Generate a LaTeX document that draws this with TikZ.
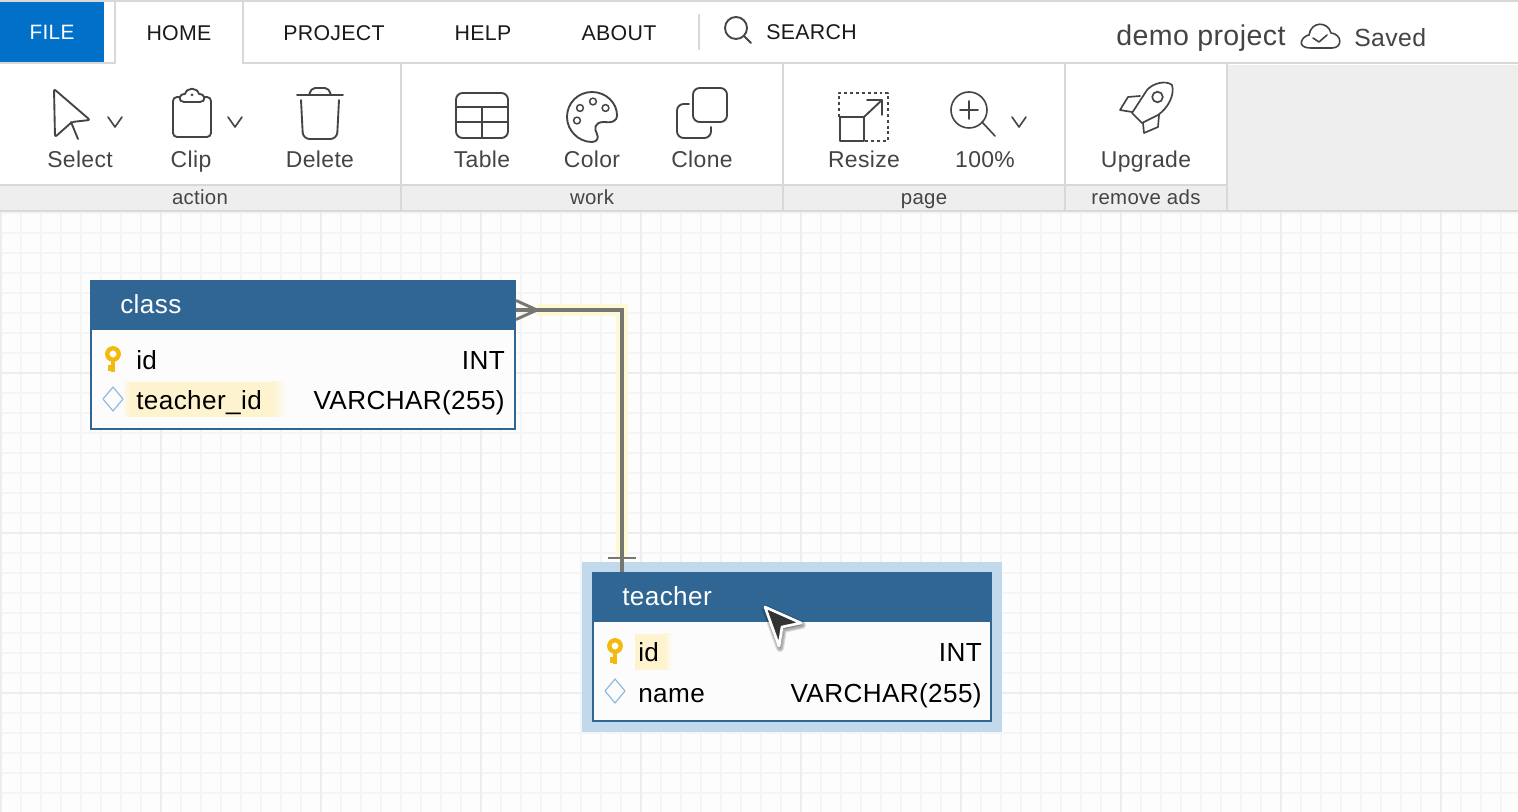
\documentclass[tikz,border=0pt]{standalone}
\usepackage{fontspec}
\setmainfont[LetterSpace=1.5]{Liberation Sans}
\usetikzlibrary{calc,shadows,shapes.geometric}
\definecolor{linegray}{HTML}{D8D8D8}
\definecolor{panelgray}{HTML}{EEEEEE}
\definecolor{tablehead}{HTML}{2F6694}
\definecolor{halo}{HTML}{C2D9EB}
\definecolor{glow}{HTML}{FDF3CF}
\definecolor{connglow}{HTML}{FDF8D6}
\definecolor{conn}{HTML}{777772}
\definecolor{keygold}{HTML}{F2B90F}
\definecolor{fkblue}{HTML}{8FB8E0}
\definecolor{icon}{HTML}{444444}
\definecolor{menutext}{HTML}{1A1A1A}
\definecolor{canvas}{HTML}{FDFDFD}
\definecolor{gridminor}{HTML}{F5F5F5}
\definecolor{gridmajor}{HTML}{EDEDED}
\definecolor{rowbg}{HTML}{FCFCFC}
\tikzset{
  x=0.75pt,y=-0.75pt,
  menulabel/.style={anchor=base,inner sep=0pt,text=menutext,font=\fontsize{16pt}{20pt}\selectfont},
  toollabel/.style={anchor=base,inner sep=0pt,text=icon,font=\fontsize{17.2pt}{20pt}\selectfont},
  seclabel/.style={anchor=base,inner sep=0pt,text=icon,font=\fontsize{15.3pt}{17pt}\selectfont},
  iconline/.style={draw=icon,line width=1.4pt,line join=round,line cap=round},
  sepline/.style={draw=linegray,line width=1.5pt},
  tbltext/.style={inner sep=0pt,text=black,font=\fontsize{19.6pt}{23pt}\selectfont},
  tblhead/.style={inner sep=0pt,text=white,font=\fontsize{19.6pt}{23pt}\selectfont,anchor=base west},
  headbox/.style={rectangle,fill=tablehead,inner sep=0pt,outer sep=0pt,anchor=north west},
  bodybox/.style={rectangle,draw=tablehead,fill=rowbg,line width=1.5pt,inner sep=0pt,outer sep=0pt,anchor=north west},
  keyicon/.pic={
    \draw[keygold,line width=3.3pt] (0,0) circle (5.7);
    \fill[keygold] (-2.2,6) rectangle (2.2,18);
    \fill[keygold] (-5.5,11) rectangle (-2,17);
  },
  fkicon/.pic={
    \draw[fkblue,line width=0.9pt,line join=round] (-10,0) -- (0,-12) -- (10,0) -- (0,12) -- cycle;
  },
  chevron/.pic={
    \draw[iconline,line width=1.2pt] (-7,-5) -- (0,5) -- (7,-5);
  }
}
\begin{document}
\begin{tikzpicture}
\useasboundingbox (0,0) rectangle (1518,812);
% canvas
\fill[canvas] (0,0) rectangle (1518,812);
\foreach \gx in {1,21,...,1518} \draw[gridminor,line width=1.5pt] (\gx,212) -- (\gx,812);
\foreach \gy in {213,233,...,812} \draw[gridminor,line width=1.5pt] (0,\gy) -- (1518,\gy);
\foreach \gx in {1,161,...,1518} \draw[gridmajor,line width=1.5pt] (\gx,212) -- (\gx,812);
\foreach \gy in {373,533,693} \draw[gridmajor,line width=1.5pt] (0,\gy) -- (1518,\gy);
% chrome
\fill[white] (0,0) rectangle (1518,185);
\fill[panelgray] (1228,65) rectangle (1518,210);
\fill[panelgray] (0,185) rectangle (1228,210);
\draw[sepline] (0,1) -- (1518,1);
\fill[fill=white] (115,2) rectangle (243,64);
\fill[fill={rgb,255:red,0;green,112;blue,200}] (0,2) rectangle (104,62);
\draw[sepline] (0,63) -- (115,63) -- (115,2);
\draw[sepline] (243,2) -- (243,63) -- (1518,63);
\draw[sepline] (699,14) -- (699,50);
\draw[sepline] (0,185) -- (1228,185);
\draw[sepline] (0,211) -- (1518,211);
\foreach \sx in {401,783,1065,1227} \draw[sepline] (\sx,64) -- (\sx,211);
% menu
\node[menulabel,text=white,font=\fontsize{15.6pt}{20pt}\selectfont] (file) at (52,40) {FILE};
\node[menulabel] (home) at (179,41) {HOME};
\node[menulabel] (project) at (334,41) {PROJECT};
\node[menulabel] (help) at (483,41) {HELP};
\node[menulabel] (about) at (619,41) {ABOUT};
\node[menulabel,anchor=base west] (search) at (766,40) {SEARCH};
\draw[iconline] (736,28) circle (11);
\draw[iconline] (744,36) -- (751,43);
\node[inner sep=0pt,anchor=base west,text=icon,font=\fontsize{21.4pt}{25pt}\selectfont] (demo) at (1116,46) {demo project};
\node[inner sep=0pt,anchor=base west,text=icon,font=\fontsize{18.6pt}{22pt}\selectfont] (saved) at (1354,47) {Saved};
% cloud
\draw[iconline,line width=1.2pt] (1311,48) -- (1332,48) .. controls (1343,48) and (1342,34) .. (1331,33) .. controls (1328,21) and (1311,21) .. (1309,35) .. controls (1302,36) and (1295,48) .. (1311,48) -- cycle;
\draw[iconline,line width=1.2pt] (1313,38) -- (1319,42) -- (1327,35);
% toolbar labels
\node[toollabel] (select) at (80,168) {Select};
\node[toollabel] (clip) at (191,168) {Clip};
\node[toollabel] (delete) at (320,168) {Delete};
\node[toollabel] (table) at (482,168) {Table};
\node[toollabel] (color) at (592,168) {Color};
\node[toollabel] (clone) at (702,168) {Clone};
\node[toollabel] (resize) at (864,168) {Resize};
\node[toollabel] (zoom) at (985,168) {100\%};
\node[toollabel] (upgrade) at (1146,168) {Upgrade};
\node[seclabel] (action) at (200,205) {action};
\node[seclabel] (work) at (592,205) {work};
\node[seclabel] (page) at (924,205) {page};
\node[seclabel] (ads) at (1146,205) {remove ads};
% select icon
\draw[iconline,rounded corners=1.5pt] (54,89) -- (90,120) -- (72,122) -- (55,137) -- cycle;
\draw[iconline] (71,122) -- (78,139);
\pic at (115,122) {chevron};
\pic at (235,122) {chevron};
\pic at (1019,122) {chevron};
% clip icon
\draw[iconline,rounded corners=3pt] (180,97) -- (173,97) -- (173,137) -- (211,137) -- (211,97) -- (204,97);
\draw[iconline] (184,102) -- (200,102) .. controls (206,102) and (206,94) .. (199,94) .. controls (197,87) and (187,87) .. (185,94) .. controls (178,94) and (178,102) .. (184,102) -- cycle;
\fill[icon] (192,95) circle (1.5);
% delete icon
\draw[iconline] (297,95) -- (343,95);
\draw[iconline] (309,95) .. controls (311,90) and (312,88) .. (315,88) -- (325,88) .. controls (328,88) and (329,90) .. (331,95);
\draw[iconline,rounded corners=5pt] (301,100) -- (303,139) -- (337,139) -- (339,100);
% table icon
\draw[iconline,rounded corners=5pt] (456,93) rectangle (508,138);
\draw[iconline] (456,107) -- (508,107) (456,122) -- (508,122) (482,107) -- (482,138);
% palette
\draw[iconline] (592,92) .. controls (606,92) and (617,103) .. (617,115) .. controls (617,122) and (611,123) .. (604,122) .. controls (594,122) and (594,129) .. (597,134) .. controls (599,138) and (597,142) .. (592,142) .. controls (578,142) and (567,130) .. (567,117) .. controls (567,103) and (578,92) .. (592,92) -- cycle;
\foreach \px/\py in {580/108,593/101.5,605.5/108,577/120.5} \draw[iconline,line width=1.1pt] (\px,\py) circle (3.4);
% clone
\draw[iconline,rounded corners=5pt] (693,88) rectangle (727,122);
\draw[iconline,rounded corners=5pt] (689,104) -- (677,104) -- (677,138) -- (711,138) -- (711,127);
% resize
\draw[iconline,dash pattern=on 2.2pt off 2.2pt,line cap=butt] (839,117) -- (839,93) -- (888,93) -- (888,141) -- (864,141);
\draw[iconline,line width=1.9pt,line cap=butt] (840,117) rectangle (864,141);
\draw[iconline] (864,117) -- (882,100);
\draw[iconline] (867,100) -- (882,100) -- (882,115);
% zoom
\draw[iconline,line width=1.2pt] (969,110) circle (18);
\draw[iconline,line width=1.2pt] (982,122) -- (995,136);
\draw[iconline,line width=1.2pt] (960,110) -- (978,110) (969,101) -- (969,119);
% rocket
\draw[iconline,line width=1.25pt] (1172,85) .. controls (1166,80) and (1153,83) .. (1147,90) -- (1132,113) -- (1142,123) -- (1158,115) .. controls (1168,108) and (1175,95) .. (1172,85) -- cycle;
\draw[iconline,line width=1.25pt] (1140,96) -- (1128,97) -- (1120,110) -- (1132,112);
\draw[iconline,line width=1.25pt] (1143,123) -- (1144,133) -- (1158,127) -- (1159,115);
\draw[iconline,line width=1.25pt] (1157.5,97) circle (5.3);
% tables
\node[rectangle,fill=halo,inner sep=0pt,outer sep=0pt,anchor=north west,minimum width=315pt,minimum height=127.5pt] (teacherhalo) at (582,562) {};
\node[bodybox,minimum width=318pt,minimum height=111pt] (classbody) at (91,281) {};
\node[headbox,minimum width=319.5pt,minimum height=37.5pt] (classhead) at (90,280) {};
\node[bodybox,minimum width=298.5pt,minimum height=111pt] (teacherbody) at (593,573) {};
\node[headbox,minimum width=300pt,minimum height=37.5pt] (teacherhead) at (592,572) {};
% highlights
\shade[left color=rowbg,right color=glow] (122,382) rectangle (130,417);
\fill[glow] (130,382) rectangle (272,417);
\shade[left color=glow,right color=rowbg] (272,382) rectangle (286,417);
\fill[glow] (635,634) rectangle (664,670);
\shade[left color=glow,right color=rowbg] (664,634) rectangle (672,670);
% connector
\coordinate (classport) at ($(classhead.east)+(0,5)$);
\coordinate (teacherport) at ($(teacherhead.north)+(-170,0)$);
\coordinate (crowtip) at ($(classport)+(21,0)$);
\coordinate (barcenter) at ($(teacherport)+(0,-14)$);
\draw[connglow,line width=9.5pt,line join=miter] (crowtip) -- (crowtip -| teacherport) -- (barcenter);
\draw[conn,line width=2.4pt,line join=miter] (classport) -- (classport -| teacherport) -- (teacherport);
\draw[conn,line width=2.2pt] ($(classport)+(0,-9.5)$) -- (crowtip) -- ($(classport)+(0,9.5)$);
\draw[conn,line width=2.2pt] ($(barcenter)+(-14,0)$) -- ($(barcenter)+(14,0)$);
% table text
\node[tblhead] (classtitle) at (120,314) {class};
\node[tbltext,anchor=base west] (cid) at (136,370) {id};
\node[tbltext,anchor=base east] (cidt) at (505,370) {INT};
\node[tbltext,anchor=base west] (cfk) at (136,410) {teacher\_id};
\node[tbltext,anchor=base east] (cfkt) at (505,410) {VARCHAR(255)};
\node[tblhead] (teachertitle) at (622,606) {teacher};
\node[tbltext,anchor=base west] (tid) at (638,662) {id};
\node[tbltext,anchor=base east] (tidt) at (982,662) {INT};
\node[tbltext,anchor=base west] (tname) at (638,702) {name};
\node[tbltext,anchor=base east] (tnamet) at (982,702) {VARCHAR(255)};
\pic at (113,354) {keyicon};
\pic at (615,646) {keyicon};
\pic at (113,399) {fkicon};
\pic at (615,691) {fkicon};
% cursor
\foreach \lw in {6pt,4.5pt,3pt}
  \draw[black,opacity=0.12,line width=\lw,line join=round,fill=black] (766,609) -- (802,625) -- (783,629) -- (780,648) -- cycle;
\draw[white,line width=2pt,fill={rgb,255:red,51;green,51;blue,51},line join=round] (765,607) -- (801,623) -- (782,627) -- (779,646) -- cycle;
\end{tikzpicture}
\end{document}
